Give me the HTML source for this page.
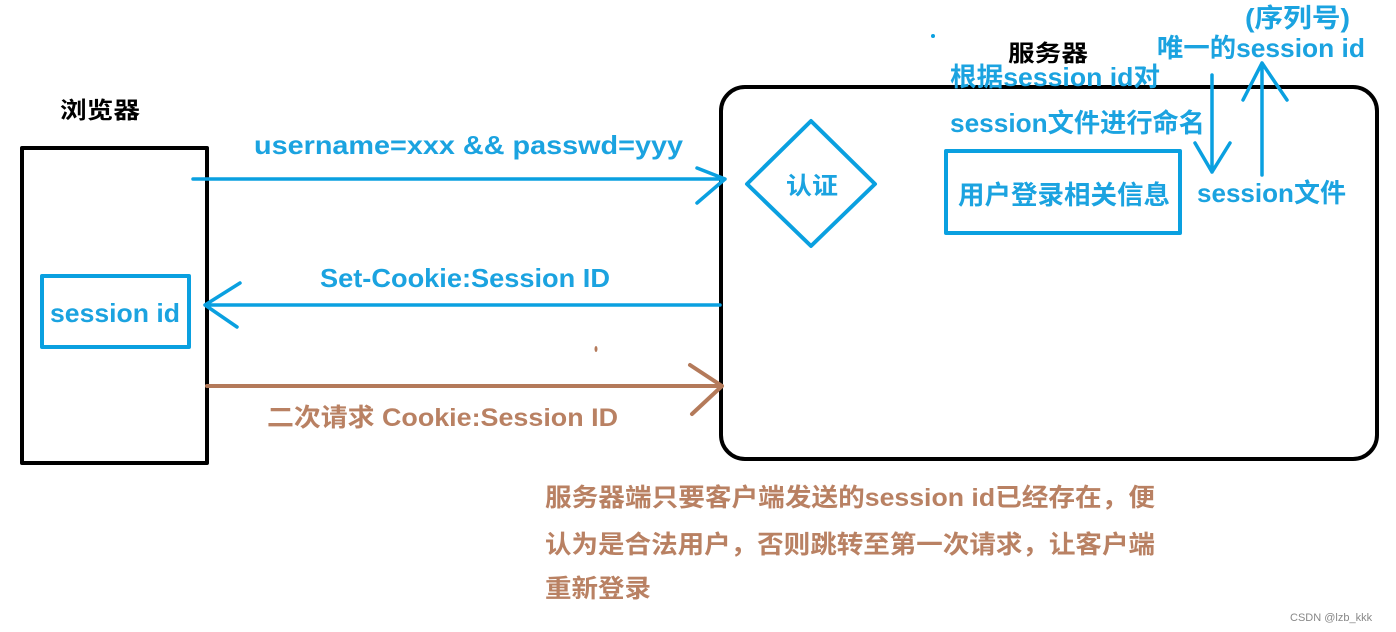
<!DOCTYPE html>
<html><head><meta charset="utf-8"><style>
html,body{margin:0;padding:0;background:#fff;width:1396px;height:632px;overflow:hidden}
svg{display:block}
text{font-family:"Liberation Sans","Noto Sans CJK SC",sans-serif;font-weight:bold}
</style></head><body>
<svg width="1396" height="632" viewBox="0 0 1396 632" xmlns="http://www.w3.org/2000/svg">
<g fill="none" stroke-linecap="round" stroke-linejoin="round">
<rect x="22" y="148" width="185" height="315" stroke="#000" stroke-width="4"/>
<rect x="721" y="87" width="656" height="372" rx="24" stroke="#000" stroke-width="4"/>
<rect x="42" y="276" width="147" height="71" stroke="#0aa0e0" stroke-width="4"/>
<rect x="946" y="151" width="234" height="82" stroke="#0aa0e0" stroke-width="4"/>
<polygon points="811,121 875,184 811,246 747,184" stroke="#0aa0e0" stroke-width="4"/>
<g stroke="#0aa0e0" stroke-width="3.5">
<path d="M193 179 L725 179 M697 168 L725 179 L697 203"/>
<path d="M720 305 L205 305 M240 283 L205 305 L237 327"/>
<path d="M1212 75 L1212 172 M1195 143 L1212 172 L1230 143"/>
<path d="M1262 175 L1262 63 M1243 100 L1262 63 L1287 100"/>
</g>
<g stroke="#b47a5a" stroke-width="4">
<path d="M207 386 L722 386 M690 365 L722 386 L692 414"/>
</g>
</g>
<circle cx="933" cy="36" r="2" fill="#0aa0e0"/>
<ellipse cx="596" cy="349" rx="1.5" ry="3" fill="#b47a5a"/>
<g fill="#000" font-size="23">
<text x="60" y="118" textLength="80" lengthAdjust="spacingAndGlyphs">浏览器</text>
<text x="1008" y="61" textLength="80" lengthAdjust="spacingAndGlyphs">服务器</text>
</g>
<g fill="#1ba3e0" font-size="26">
<text x="254" y="154" textLength="429" lengthAdjust="spacingAndGlyphs">username=xxx &amp;&amp; passwd=yyy</text>
<text x="320" y="287" textLength="290" lengthAdjust="spacingAndGlyphs">Set-Cookie:Session ID</text>
<text x="50" y="322" textLength="130" lengthAdjust="spacingAndGlyphs">session id</text>
<text x="786" y="194" font-size="24" textLength="52" lengthAdjust="spacingAndGlyphs">认证</text>
<text x="958" y="204" textLength="212" lengthAdjust="spacingAndGlyphs">用户登录相关信息</text>
<text x="950" y="86" textLength="210" lengthAdjust="spacingAndGlyphs">根据session id对</text>
<text x="950" y="132" textLength="255" lengthAdjust="spacingAndGlyphs">session文件进行命名</text>
<text x="1197" y="202" textLength="149" lengthAdjust="spacingAndGlyphs">session文件</text>
<text x="1157" y="57" textLength="208" lengthAdjust="spacingAndGlyphs">唯一的session id</text>
<text x="1245" y="27" textLength="105" lengthAdjust="spacingAndGlyphs">(序列号)</text>
</g>
<g fill="#b98163" font-size="25">
<text x="267" y="426" textLength="351" lengthAdjust="spacingAndGlyphs">二次请求 Cookie:Session ID</text>
<text x="545" y="506" textLength="610" lengthAdjust="spacingAndGlyphs">服务器端只要客户端发送的session id已经存在，便</text>
<text x="545" y="553" textLength="610" lengthAdjust="spacingAndGlyphs">认为是合法用户，否则跳转至第一次请求，让客户端</text>
<text x="545" y="597" textLength="106" lengthAdjust="spacingAndGlyphs">重新登录</text>
</g>
<text x="1290" y="621" fill="#888" font-size="11" style="font-weight:normal">CSDN @lzb_kkk</text>
</svg>
</body></html>
